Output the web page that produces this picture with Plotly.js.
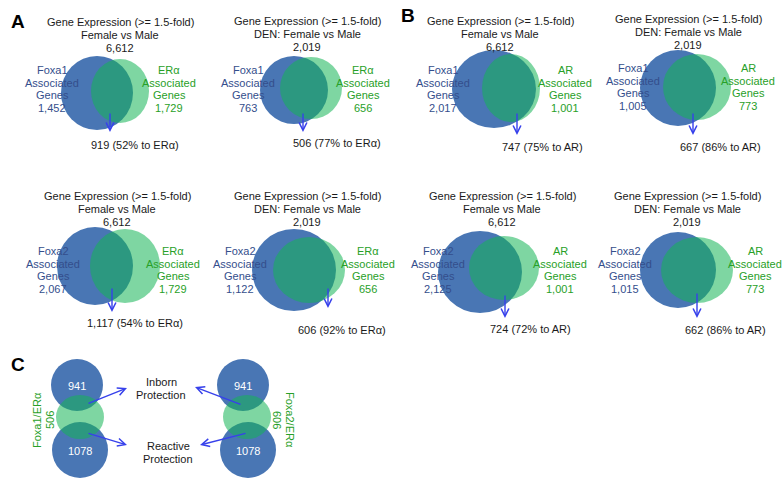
<!DOCTYPE html>
<html>
<head>
<meta charset="utf-8">
<script src="https://cdn.plot.ly/plotly-3.0.1.min.js"></script>
<style>html,body{margin:0;padding:0;background:#fff;}#chart{width:783px;height:481px;}</style>
</head>
<body>
<div id="chart"></div>
<script>
// ---------------- DATA ----------------
const panelLetters = ["A", "B", "C"];
const titleLine = "Gene Expression (>= 1.5-fold)";
// order: row1 A-left, A-right, B-left, B-right ; row2 A-left, A-right, B-left, B-right
const conditions = ["Female vs Male", "DEN: Female vs Male", "Female vs Male", "DEN: Female vs Male",
                    "Female vs Male", "DEN: Female vs Male", "Female vs Male", "DEN: Female vs Male"];
const expressedGenes = [6612, 2019, 6612, 2019, 6612, 2019, 6612, 2019];
const leftFactor = ["Foxa1", "Foxa1", "Foxa1", "Foxa1", "Foxa2", "Foxa2", "Foxa2", "Foxa2"];
const rightFactor = ["ERα", "ERα", "AR", "AR", "ERα", "ERα", "AR", "AR"];
const leftCounts = [1452, 763, 2017, 1005, 2067, 1122, 2125, 1015];
const rightCounts = [1729, 656, 1001, 773, 1729, 656, 1001, 773];
const overlapCounts = [919, 506, 747, 667, 1117, 606, 724, 662];
const overlapPct = [52, 77, 75, 86, 54, 92, 72, 86];

// panel C
const cPairLabels = ["Foxa1/ERα", "Foxa2/ERα"];
const cTopCounts = [941, 941];
const cMidCounts = [506, 606];
const cBottomCounts = [1078, 1078];
const cOutcomes = [["Inborn", "Protection"], ["Reactive", "Protection"]];

// ---------------- LAYOUT GEOMETRY (pixels) ----------------
const venns = [
  {t:[120,22], b:[97,93,36,37], g:[120,91,29,32], l:52, r:169, ly:70, ax:110, a:[112,132], o:[135,145]},
  {t:[307,21], b:[294,90,34,34], g:[311,88,31,31], l:248, r:363, ly:70, ax:303, a:[112,132], o:[337,143]},
  {t:[500,21], b:[494,89,42,39], g:[511,88,29,34], l:443, r:565, ly:70, ax:517, a:[112,135], o:[542,147]},
  {t:[688,19], b:[678,88,38,38], g:[697,87,34,33], l:633, r:748, ly:68, ax:693, a:[112,135], o:[720,147]},
  {t:[117,196], b:[95,266,38,39], g:[125,266,35,37], l:53, r:173, ly:251, ax:112, a:[287,312], o:[135,323]},
  {t:[307,196], b:[294,270,42,41], g:[309,270,36,33], l:240, r:368, ly:251, ax:328, a:[287,308], o:[342,330]},
  {t:[502,196], b:[480,272,42,41], g:[504,268,35,32], l:438, r:560, ly:251, ax:505, a:[294,318], o:[530,329]},
  {t:[687,196], b:[678,270,38,38], g:[697,270,36,33], l:625, r:755, ly:251, ax:697, a:[292,318], o:[725,330]}
];
const letterPos = [[18,21],[408,15],[18,364]];
const cStacks = [
  {top:[77,385,26], bot:[80,450,28], mid:[80,417,24], lab:[37,420,-90], num:[50,420,-90],
   arrows:[[87,404,127,388],[87,433,127,445]]},
  {top:[243,385,26], bot:[248,450,28], mid:[247,417,24], lab:[290,420,90], num:[277,420,90],
   arrows:[[242,405,195,387],[247,433,200,445]]}
];
const outcomePos = [[161,382],[168,446]];

// ---------------- STYLES ----------------
const FONT = "Liberation Sans, Arial, sans-serif";
const BLUE = "rgb(73,118,180)";
const GREEN = "rgba(20,180,85,0.55)";
const BLUE_TXT = "rgb(52,78,140)";
const GREEN_TXT = "rgb(40,160,40)";
const ARROW = "rgb(55,65,235)";
const DARK = "#1a1a1a";

function fmt(n){ return String(n).replace(/\B(?=(\d{3})+(?!\d))/g, ","); }

const shapes = [];
const ann = [];
function ellipse(cx, cy, rx, ry, color){
  shapes.push({type:"circle", xref:"x", yref:"y", x0:cx-rx, x1:cx+rx, y0:cy-ry, y1:cy+ry,
               fillcolor:color, line:{width:0}, layer:"below"});
}
function text(x, y, t, size, color, extra){
  ann.push(Object.assign({x:x, y:y, xref:"x", yref:"y", text:t, showarrow:false,
    xanchor:"center", yanchor:"middle", font:{family:FONT, size:size, color:color}}, extra||{}));
}
function arrow(x0, y0, x1, y1){
  ann.push({x:x1, y:y1, ax:x0, ay:y0, xref:"x", yref:"y", axref:"x", ayref:"y", text:"",
    showarrow:true, arrowhead:5, arrowsize:1.1, arrowwidth:1.4, arrowcolor:ARROW, standoff:0, startstandoff:0});
}

venns.forEach((v, i) => {
  ellipse(v.b[0], v.b[1], v.b[2], v.b[3], BLUE);
  ellipse(v.g[0], v.g[1], v.g[2], v.g[3], GREEN);
  const titleLines = [titleLine, conditions[i], fmt(expressedGenes[i])];
  titleLines.forEach((s, k) => text(v.t[0], v.t[1] + 13*k, s, 11, DARK));
  const L = [leftFactor[i], "Associated", "Genes", fmt(leftCounts[i])];
  const R = [rightFactor[i], "Associated", "Genes", fmt(rightCounts[i])];
  L.forEach((s, k) => text(v.l, v.ly + 12.5*k, s, 11, BLUE_TXT));
  R.forEach((s, k) => text(v.r, v.ly + 12.5*k, s, 11, GREEN_TXT));
  arrow(v.ax, v.a[0], v.ax, v.a[1]);
  text(v.o[0], v.o[1], fmt(overlapCounts[i]) + " (" + overlapPct[i] + "% to " + rightFactor[i] + ")", 11, DARK);
});

cStacks.forEach((s, i) => {
  ellipse(s.top[0], s.top[1], s.top[2], s.top[2], BLUE);
  ellipse(s.bot[0], s.bot[1], s.bot[2], s.bot[2], BLUE);
  ellipse(s.mid[0], s.mid[1], s.mid[2], s.mid[2]*0.92, GREEN);
  text(s.top[0], s.top[1] + 1, String(cTopCounts[i]), 11, "#ffffff");
  text(s.bot[0], s.bot[1] + 1, String(cBottomCounts[i]), 11, "#ffffff");
  text(s.lab[0], s.lab[1], cPairLabels[i], 11, GREEN_TXT, {textangle:s.lab[2]});
  text(s.num[0], s.num[1], String(cMidCounts[i]), 11, GREEN_TXT, {textangle:s.num[2]});
  s.arrows.forEach(a => arrow(a[0], a[1], a[2], a[3]));
});
cOutcomes.forEach((o, k) => o.forEach((s, j) =>
  text(outcomePos[k][0], outcomePos[k][1] + 12.5*j, s, 11, DARK)));

panelLetters.forEach((p, k) => text(letterPos[k][0], letterPos[k][1], "<b>" + p + "</b>", 19, "#000"));

const layout = {
  width:783, height:481, margin:{l:0, r:0, t:0, b:0},
  paper_bgcolor:"#fff", plot_bgcolor:"#fff", showlegend:false,
  xaxis:{range:[0,783], visible:false, fixedrange:true},
  yaxis:{range:[481,0], visible:false, fixedrange:true},
  shapes:shapes, annotations:ann
};
Plotly.newPlot("chart", [{x:[], y:[], type:"scatter", mode:"markers", hoverinfo:"skip"}], layout,
  {staticPlot:true, displayModeBar:false});
</script>
</body>
</html>
